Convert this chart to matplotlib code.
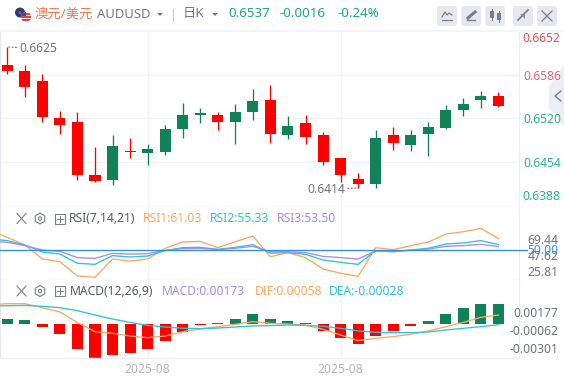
import numpy as np
import matplotlib
matplotlib.use("Agg")
import matplotlib.pyplot as plt
from matplotlib.patches import Circle, FancyBboxPatch, Polygon, Rectangle, RegularPolygon

plt.rcParams['font.family'] = ['Noto Sans', 'Noto Sans CJK SC', 'DejaVu Sans']

# ---------- data ----------
highs = [.6628,.66006,.65871,.65312,.65297,.64768,.64950,.64904,.64814,.65100,.65433,.65357,.65297,.65418,.65644,.65705,
         .65236,.65252,.64995,.64602,.64376,.65025,.65070,.65025,.65146,.65403,.65508,.65614,.65599]
lows = [.65871,.65523,.65146,.64965,.64270,.64240,.64195,.64602,.64497,.64647,.64904,.65131,.65025,.64814,.65176,.64829,
        .64889,.64814,.64497,.64240,.64149,.64149,.64723,.64708,.64632,.65040,.65236,.65357,.65372]
tops = [.66006,.65916,.65765,.65206,.65146,.64346,.64783,.64708,.64738,.65040,.65252,.65282,.65252,.65297,.65463,.65478,
        .65085,.65131,.64950,.64602,.64285,.64904,.64950,.64950,.65070,.65327,.65418,.65538,.65538]
bottoms = [.65916,.65674,.65226,.65100,.64346,.64255,.64270,.64693,.64678,.64693,.65040,.65252,.65146,.65146,.65297,.64965,
           .64950,.64919,.64542,.64346,.64210,.64210,.64829,.64799,.64965,.65055,.65327,.65478,.65387]
rising = [0,0,0,0,0,0,1,0,1,1,1,1,0,1,1,0,1,0,0,0,0,1,0,1,1,1,1,1,0]

rsi1 = [68.8,62.2,55.0,41.8,39.3,25.8,24.6,41.8,39.9,41.8,51.9,57.8,58.4,52.5,58.1,63.4,44.0,47.8,43.1,32.4,28.4,25.5,52.5,50.6,54.3,57.8,65.3,67.5,70.6,61.03]
rsi2 = [60.6,59.1,55.0,48.4,46.5,37.8,36.8,45.0,43.7,44.6,49.7,52.5,52.8,50.9,52.8,55.3,47.2,47.8,46.2,40.9,38.7,36.8,49.7,48.7,50.3,51.9,55.9,56.9,59.1,55.33]
rsi3 = [58.7,57.5,54.4,50.3,49.0,43.1,42.4,47.1,46.5,46.8,50.0,51.5,51.9,50.6,51.9,53.7,48.7,48.7,47.8,44.3,43.1,41.8,49.3,48.7,50.0,51.2,53.7,54.4,55.6,53.5]

macd = [.00043,.00035,-.00026,-.00086,-.00216,-.00294,-.00268,-.00251,-.00216,-.00147,-.00069,-.00009,.00009,.00043,.00086,.00043,
        .00026,.00006,-.00060,-.00121,-.00173,-.00104,-.00060,-.00017,.00026,.00086,.00138,.00173,.00173]
dif = [.00167,.00176,.00176,.00141,.00104,.00012,-.00066,-.00081,-.00104,-.00118,-.00104,-.00066,-.00043,-.00023,-.00003,.00020,.00006,
       0,-.00009,-.00046,-.00095,-.00144,-.00124,-.00109,-.00089,-.00060,-.00023,.00014,.00058,.00078]
dea = [.00156,.00158,.00161,.00153,.00141,.00115,.00078,.00043,.00014,-.00012,-.00026,-.00037,-.00040,-.00035,-.00026,-.00017,-.00014,
       -.00009,-.00012,-.00020,-.00037,-.00060,-.00072,-.00075,-.00075,-.00069,-.00052,-.00037,-.00023,-.00006]

price_ticks = [0.6586, 0.6520, 0.6454]
date_ticks = [8, 19]
date_label = "2025-08"

# ---------- style ----------
RED, GREEN = '#ff0000', '#118257'
ORANGE, CYAN, PURPLE, BLUE = '#f9a862', '#2cc3dc', '#a98ae6', '#2d8fe8'
GRID, GREY = '#f2f3f7', '#6f7280'
W, H = 564, 380

fig = plt.figure(figsize=(W/100, H/100), dpi=100, facecolor='white')

# background layer in pixel coordinates (sits behind the price labels)
bg = fig.add_axes([0, 0, 1, 1], facecolor='none', zorder=-1)
bg.set_xlim(0, W)
bg.set_ylim(H, 0)
bg.axis('off')
bg.add_patch(Polygon([(564, 65), (549, 86), (549, 108), (564, 127)], color='#eceef4', lw=0))
bg.plot([561, 555, 561], [91, 96, 101], color='#7a7d8e', lw=1)

def make_ax(y0, y1):
    a = fig.add_axes([0, 1 - y1/H, 519/W, (y1 - y0)/H])
    a.set_xlim(-0.416, 29.17)
    for s in a.spines.values():
        s.set_visible(False)
    a.spines['right'].set_visible(True)
    a.spines['right'].set_color('#eceef3')
    a.spines['right'].set_linewidth(0.8)
    a.spines['bottom'].set_visible(True)
    a.spines['bottom'].set_color('#eceef3')
    a.spines['bottom'].set_linewidth(1.0)
    a.spines['left'].set_visible(True)
    a.spines['left'].set_color('#e6e8f0')
    a.spines['left'].set_linewidth(1.0)
    a.set_xticks(date_ticks)
    a.set_xticklabels([])
    a.tick_params(length=0)
    a.grid(True, color=GRID, lw=1.0)
    a.set_axisbelow(True)
    return a

x = np.arange(29)
xi = np.arange(-1, 29)

# ---------- main candles ----------
ax = make_ax(31.7, 206.7)
ax.set_ylim(0.63867, 0.66509)
ax.yaxis.tick_right()
ax.set_yticks(price_ticks)
ax.set_yticklabels([f"{v:.4f}" for v in price_ticks], fontsize=8.7, color='#2cb096')
ax.get_yticklabels()[0].set_color('#e06a74')
ax.tick_params(axis='y', pad=3)
cols = [GREEN if r else RED for r in rising]
ax.vlines(x, lows, highs, colors=cols, lw=0.95, zorder=2)
ax.bar(x, np.array(tops) - np.array(bottoms), bottom=bottoms, width=0.63, color=cols, zorder=3, linewidth=0)
ax.annotate("0.6625", xy=(0, highs[0]), xytext=(12, -2), textcoords='offset pixels', fontsize=8.7, color=GREY,
            va='center', ha='left', annotation_clip=False,
            arrowprops=dict(arrowstyle='-', lw=0.8, ls=(0, (1, 2)), color=GREY, shrinkA=0, shrinkB=0))
ax.annotate("0.6414", xy=(20, lows[20]), xytext=(-13, -1), textcoords='offset pixels', fontsize=8.7, color=GREY,
            va='center', ha='right', annotation_clip=False,
            arrowprops=dict(arrowstyle='-', lw=0.8, ls=(0, (1, 2)), color=GREY, shrinkA=0, shrinkB=0))

# ---------- RSI ----------
ax2 = make_ax(206.7, 280)
ax2.set_ylim(22.08, 90.98)
ax2.set_yticks([])
ax2.plot(xi, rsi1, color=ORANGE, lw=0.95, zorder=3)
ax2.plot(xi, rsi2, color=CYAN, lw=0.95, zorder=3)
ax2.plot(xi, rsi3, color=PURPLE, lw=0.95, zorder=3)
ax2.axhline(50, color=BLUE, lw=0.95, zorder=4, xmax=1.015, clip_on=False)

# ---------- MACD ----------
ax3 = make_ax(280, 358)
ax3.set_ylim(-0.002941, 0.003806)
ax3.set_yticks([])
ax3.set_xticklabels([date_label] * 2, fontsize=8.7, color='#b2b4c0')
ax3.tick_params(axis='x', pad=3.5)
mc = [GREEN if v > 0 else RED for v in macd]
ax3.bar(x, macd, width=0.63, color=mc, linewidth=0, zorder=2)
ax3.plot(xi, dif, color=ORANGE, lw=0.95, zorder=3)
ax3.plot(xi, dea, color=CYAN, lw=0.95, zorder=3)

# ---------- overlay in pixel coordinates ----------
ov = fig.add_axes([0, 0, 1, 1], facecolor='none')
ov.set_xlim(0, W)
ov.set_ylim(H, 0)
ov.axis('off')

def t(px, py, s, color=GREY, size=8.7, ha='left', **kw):
    ov.text(px, py, s, color=color, fontsize=size, ha=ha, va='center', **kw)

ov.add_patch(Rectangle((0, 30.2), 564, 1.6, color='#f4f5f8', lw=0))
# flag
ov.add_patch(Circle((20, 12.5), 5, color='#2b3a78', lw=0))
ov.add_patch(Circle((20, 12.5), 1.4, color='#d8483f', lw=0))
ov.add_patch(Circle((26, 17), 5, color='#e9e4ea', lw=0))
us = Circle((26, 17), 5, transform=ov.transData)
for yy in (13, 16, 19):
    r = Rectangle((20, yy), 12, 1.5, color='#d8483f', lw=0)
    ov.add_patch(r); r.set_clip_path(us)
r = Rectangle((20, 11), 6, 5, color='#3a4a8c', lw=0)
ov.add_patch(r); r.set_clip_path(us)

t(35, 14, "澳元/美元", '#f2754e', 9.6)
t(97, 15, "AUDUSD", '#757888', 9.4)
ov.add_patch(Polygon([(157, 13), (163, 13), (160, 16)], color='#757888', lw=0))
ov.plot([173, 173], [9, 21], color='#c9ccd6', lw=0.8)
t(183, 14, "日K", '#757888', 9.6)
ov.add_patch(Polygon([(212, 13), (218, 13), (215, 16)], color='#757888', lw=0))
GR = '#17a78b'
t(228, 13.5, "0.6537", GR, 9.6, fontweight='bold')
t(280, 13.5, "-0.0016", GR, 9.6, fontweight='bold')
t(337, 13.5, "-0.24%", GR, 9.6, fontweight='bold')

# toolbar buttons
for bx in (437, 461, 485, 513, 537):
    ov.add_patch(FancyBboxPatch((bx + 2, 8), 16, 16, boxstyle="round,pad=2,rounding_size=3", color='#e6e8ef', lw=0))
IC = '#7a7d8c'
ov.plot([442, 445, 447, 449, 452], [17, 12, 15, 13, 15], color=IC, lw=0.9)
ov.plot([442, 452], [20, 20], color=IC, lw=0.9)
ov.plot([467, 475], [20, 20], color=IC, lw=1)
ov.plot([468, 475], [18, 12], color=IC, lw=2.2)
ov.add_patch(Rectangle((490, 11), 4, 7, color=IC, lw=0))
ov.add_patch(Rectangle((497, 13), 4, 7, color=IC, lw=0))
ov.plot([492, 492], [9, 20], color=IC, lw=0.7)
ov.plot([499, 499], [11, 22], color=IC, lw=0.7)
ov.plot([518, 522], [20, 16], color=IC, lw=1.2)
ov.plot([524, 528], [14, 10], color=IC, lw=1.2)
ov.add_patch(Polygon([(520, 14), (525, 14), (525, 19)], color=IC, lw=0, alpha=0.8))
ov.plot([542, 552], [11, 21], color=IC, lw=0.9)
ov.plot([542, 552], [21, 11], color=IC, lw=0.9)

# price labels outside the middle ticks
t(522, 38.5, "0.6652", '#e2505c')
t(522, 197, "0.6388", '#2cb096')

# panel headers
def header(py):
    ov.plot([17, 26], [py - 5, py + 5], color=IC, lw=0.8)
    ov.plot([17, 26], [py + 5, py - 5], color=IC, lw=0.8)
    ov.add_patch(RegularPolygon((40, py), 6, radius=5.5, fill=False, ec=IC, lw=0.8))
    ov.add_patch(Circle((40, py), 1.7, fill=False, ec=IC, lw=0.8))
    ov.add_patch(Rectangle((55, py - 5), 10, 10, fill=False, ec=IC, lw=0.8))
    ov.plot([57, 63], [py, py], color=IC, lw=0.8)
    ov.plot([60, 60], [py - 3, py + 3], color=IC, lw=0.8)

header(218.5)
t(69, 218.5, "RSI(7,14,21)", '#55586a')
t(143, 218.5, "RSI1:61.03", ORANGE)
t(210, 218.5, "RSI2:55.33", CYAN)
t(277, 218.5, "RSI3:53.50", PURPLE)

header(291)
t(70, 291.5, "MACD(12,26,9)", '#55586a')
t(162, 291.5, "MACD:0.00173", PURPLE)
t(255, 291.5, "DIF:0.00058", ORANGE)
t(329, 291.5, "DEA:-0.00028", CYAN)

# indicator scale labels (these overlap in the reference as well)
t(558.5, 240.5, "69.44", ha='right')
t(558.5, 256.5, "47.62", ha='right')
t(558.5, 272, "25.81", ha='right')
t(558.5, 251, "50.00", BLUE, ha='right')
t(558.5, 313.5, "0.00177", ha='right')
t(558.5, 331.5, "-0.00062", ha='right')
t(558.5, 349.5, "-0.00301", ha='right')

fig.savefig("out.png", dpi=100)
